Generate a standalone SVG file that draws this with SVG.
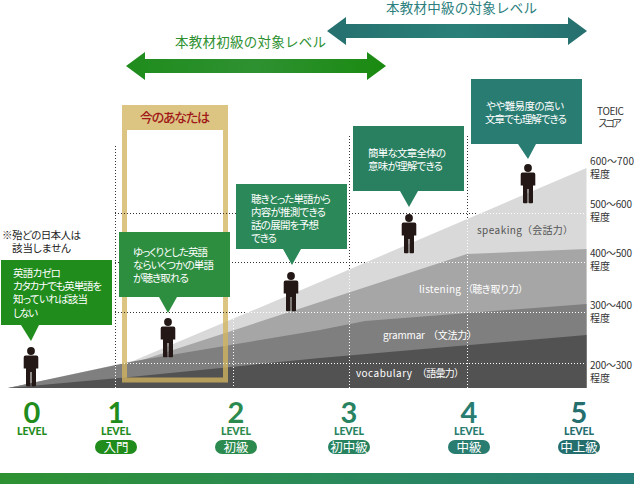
<svg xmlns="http://www.w3.org/2000/svg" xmlns:xlink="http://www.w3.org/1999/xlink" width="634" height="484" viewBox="0 0 634 484">
<style>
text{font-family:"Noto Sans CJK JP","Liberation Sans",sans-serif}
.b{font-size:10.5px;fill:#fff;font-feature-settings:"palt"}
.s{font-size:10px;fill:#333}
.k{font-size:10.5px;fill:#222;font-feature-settings:"palt"}
.c{font-size:10px;fill:#fff}
.d{font-size:10px;fill:#555}
.h{font-size:13.5px}
.n{font-family:"Lato","Liberation Sans",sans-serif;font-size:29px;font-weight:700;text-anchor:middle}
.lv{font-family:"Lato","Liberation Sans",sans-serif;font-size:10.5px;font-weight:900;text-anchor:middle}
.p{font-size:12.5px;fill:#fff;text-anchor:middle}
.dk{fill:none;stroke:#333;stroke-width:1;stroke-dasharray:1 2}
.wh{fill:none;stroke:#fff;stroke-width:1;stroke-dasharray:1 2}
</style>
<defs>
<linearGradient id="ga"><stop offset="0" stop-color="#1f8c1c"/><stop offset=".5" stop-color="#2e9131"/><stop offset="1" stop-color="#1a8a10"/></linearGradient>
<linearGradient id="ta"><stop offset="0" stop-color="#26706f"/><stop offset=".5" stop-color="#2a8078"/><stop offset="1" stop-color="#26706f"/></linearGradient>
<linearGradient id="bar"><stop offset="0" stop-color="#2e9131"/><stop offset=".5" stop-color="#2a8a58"/><stop offset="1" stop-color="#267c78"/></linearGradient>
<g id="man">
<circle cx="0" cy="0" r="3.9" fill="#231815"/>
<path d="M-5.500 4.600H5.500Q7.300 4.600 7.300 6.500V17.500H5V34.500Q5 35.300 4 35.300H1.200Q.5 35.300 .5 34.500V21H-.5V34.500Q-.5 35.300-1.200 35.300H-4Q-5 35.300-5 34.500V17.500H-7.300V6.500Q-7.300 4.600-5.500 4.600Z" fill="#231815"/>
</g>
</defs>

<g id="chart">
<path d="M8 388L133 361L320 282L586.500 168V388Z" fill="#d9d9d9"/>
<path d="M8 388L133 363L320 302L467 254L586.500 249V388Z" fill="#a6a6a6"/>
<path d="M8 388L135 361L320 330L365 321L586.500 304V388Z" fill="#7f7f7f"/>
<path d="M8 388L130 377L320 358L586.500 335V388Z" fill="#525252"/>
</g>

<g id="frame">
<path d="M122 105H228V382.500H122ZM127 130V377.500H223V130Z" fill="#d2b45f" fill-opacity=".775" fill-rule="evenodd"/>
<path d="M122 105H228V130H223H127H122Z" fill="#dcc583"/>
<text x="140" y="122" font-size="13" font-weight="500" fill="#a01818" textLength="70">今のあなたは</text>
</g>

<g id="connectors">
<path class="dk" d="M115.500 146V366M349.500 136V270M467.500 136V219M115 213.500H478M115 262.500H365M115 312.500H245"/>
<path class="wh" d="M115.500 366V388M233.500 319V388M349.500 270V388M467.500 219V388M478 213.500H586M365 262.500H586M245 312.500H586M115 363.500H586"/>
</g>

<g id="arrow-beginner">
<path d="M126 66L145 52V59H367V52L386 66L367 80V73H145V80Z" fill="url(#ga)"/>
<text class="h" x="175" y="47" fill="#2e9131" textLength="151">本教材初級の対象レベル</text>
</g>
<g id="arrow-intermediate">
<path d="M327 31L346 17V24H568V17L587 31L568 45V38H346V45Z" fill="url(#ta)"/>
<text class="h" x="386" y="13" fill="#2c7f7e" textLength="151">本教材中級の対象レベル</text>
</g>

<g id="note">
<text class="k" x="2" y="239" textLength="79">※殆どの日本人は</text>
<text class="k" x="12" y="252" textLength="59">該当しません</text>
</g>

<g id="node-level0">
<path d="M1 260H112V325H39L31 341L21 325H1Z" fill="#1f8c1c"/>
<text class="b" x="13" y="277" textLength="48">英語カゼロ</text>
<text class="b" x="13" y="290" textLength="89">カタカナでも英単語を</text>
<text class="b" x="13" y="303" textLength="75">知っていれば該当</text>
<text class="b" x="13" y="317" textLength="25">しない</text>
<use xlink:href="#man" href="#man" x="31" y="351"/>
</g>
<g id="node-level1">
<path d="M119 232H230V297H177L168 313L159 297H119Z" fill="#2e8e3f"/>
<text class="b" x="133" y="256" textLength="75">ゆっくりとした英語</text>
<text class="b" x="133" y="269" textLength="81">ならいくつかの単語</text>
<text class="b" x="133" y="282" textLength="56">が聴き取れる</text>
<use xlink:href="#man" href="#man" x="168" y="322"/>
</g>
<g id="node-level2">
<path d="M236 184H347V249H301L292 265L283 249H236Z" fill="#2b8858"/>
<text class="b" x="251" y="203" textLength="80">聴きとった単語から</text>
<text class="b" x="251" y="216" textLength="75">内容が推測できる</text>
<text class="b" x="251" y="229" textLength="68">話の展開を予想</text>
<text class="b" x="251" y="242" textLength="26">できる</text>
<use xlink:href="#man" href="#man" x="291" y="276"/>
</g>
<g id="node-level3">
<path d="M353 126H464V191H418L409 207L400 191H353Z" fill="#298060"/>
<text class="b" x="368" y="157" textLength="78">簡単な文章全体の</text>
<text class="b" x="368" y="170" textLength="75">意味が理解できる</text>
<use xlink:href="#man" href="#man" x="409" y="218"/>
</g>
<g id="node-level4">
<path d="M471 79H582V144H536L528 159L518 144H471Z" fill="#287c72"/>
<text class="b" x="486" y="110" textLength="78">やや難易度の高い</text>
<text class="b" x="485" y="123" textLength="82">文章でも理解できる</text>
<use xlink:href="#man" href="#man" x="528" y="168"/>
</g>

<g id="chart-labels">
<text class="d" x="477" y="234" textLength="45">speaking</text><text class="d" x="522" y="234" textLength="51">（会話力）</text>
<text class="c" x="419" y="293" textLength="42">listening</text><text class="c" x="463" y="293" textLength="65">（聴き取り力）</text>
<text class="c" x="383" y="339" textLength="42">grammar</text><text class="c" x="428" y="339" textLength="49">（文法力）</text>
<text class="c" x="356" y="377" textLength="56">vocabulary</text><text class="c" x="417" y="377" textLength="47">（語彙力）</text>
</g>

<g id="score">
<text class="s" x="597" y="115" textLength="27">TOEIC</text>
<text class="s" x="598" y="127" textLength="24">スコア</text>
<text class="s" x="590" y="165" textLength="44">600～700</text><text class="s" x="590" y="178" textLength="20">程度</text>
<text class="s" x="590" y="208" textLength="42">500～600</text><text class="s" x="590" y="221" textLength="20">程度</text>
<text class="s" x="590" y="257" textLength="42">400～500</text><text class="s" x="590" y="270" textLength="20">程度</text>
<text class="s" x="590" y="309" textLength="42">300～400</text><text class="s" x="590" y="322" textLength="20">程度</text>
<text class="s" x="590" y="369" textLength="42">200～300</text><text class="s" x="590" y="382" textLength="20">程度</text>
</g>

<g id="level-0"><text class="n" x="32" y="423" fill="#1f8c1c">0</text><text class="lv" x="32" y="435" fill="#1f8c1c" textLength="30">LEVEL</text></g>
<g id="level-1"><text class="n" x="116" y="423" fill="#1f8c1c">1</text><text class="lv" x="116" y="435" fill="#1f8c1c" textLength="30">LEVEL</text><rect x="95" y="440" width="42" height="14" rx="7" fill="#1f8c1c"/><text class="p" x="116" y="451.500">入門</text></g>
<g id="level-2"><text class="n" x="236" y="423" fill="#2b8a4e">2</text><text class="lv" x="236" y="435" fill="#2b8a4e" textLength="30">LEVEL</text><rect x="215" y="440" width="42" height="14" rx="7" fill="#2b8a4e"/><text class="p" x="236" y="451.500">初級</text></g>
<g id="level-3"><text class="n" x="349" y="423" fill="#27825f">3</text><text class="lv" x="349" y="435" fill="#27825f" textLength="30">LEVEL</text><rect x="328" y="440" width="42" height="14" rx="7" fill="#27825f"/><text class="p" x="349" y="451.500">初中級</text></g>
<g id="level-4"><text class="n" x="469" y="423" fill="#287c70">4</text><text class="lv" x="469" y="435" fill="#287c70" textLength="30">LEVEL</text><rect x="448" y="440" width="42" height="14" rx="7" fill="#287c70"/><text class="p" x="469" y="451.500">中級</text></g>
<g id="level-5"><text class="n" x="579" y="423" fill="#246e6e">5</text><text class="lv" x="579" y="435" fill="#246e6e" textLength="30">LEVEL</text><rect x="558" y="440" width="42" height="14" rx="7" fill="#246e6e"/><text class="p" x="579" y="451.500">中上級</text></g>

<rect id="footer-bar" x="0" y="473" width="634" height="11" fill="url(#bar)"/>
</svg>
